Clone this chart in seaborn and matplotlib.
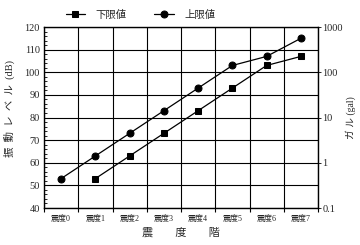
import matplotlib
matplotlib.use("Agg")
import matplotlib.pyplot as plt
import seaborn as sns
import numpy as np
import pandas as pd
from matplotlib.ticker import FixedLocator, MultipleLocator, NullFormatter

sns.set_theme(style="white")
plt.rcParams['font.family'] = ['Liberation Serif', 'Noto Sans CJK JP', 'DejaVu Sans']

categories = ["震度0", "震度1", "震度2", "震度3", "震度4", "震度5", "震度6", "震度7"]
lower_db = [np.nan, 53, 63, 73, 83, 93, 103, 107]
upper_db = [53, 63, 73, 83, 93, 103, 107, 115]
left_ticks = [40, 50, 60, 70, 80, 90, 100, 110, 120]
right_ticks = [0.1, 1, 10, 100, 1000]
right_labels = ["0.1", "1", "10", "100", "1000"]
series_names = ["下限値", "上限値"]

df = pd.DataFrame({
    "pos": list(range(len(categories))) * 2,
    "value": lower_db + upper_db,
    "series": [series_names[0]] * len(categories) + [series_names[1]] * len(categories),
})

fig = plt.figure(figsize=(3.6, 2.45), dpi=100)
ax = fig.add_axes([44/360, 1-208/245, (318-44)/360, (208-27)/245])

sns.lineplot(data=df, x="pos", y="value", style="series", markers={"下限値": "s", "上限値": "o"},
             dashes=False, color="black", linewidth=0.9, markersize=5, markeredgecolor="black",
             ax=ax, legend=True)

ax.set_xlim(-0.5, len(categories) - 0.5)
ax.set_ylim(40, 120)
ax.set_yticks(left_ticks)
ax.set_yticklabels([str(t) for t in left_ticks], fontsize=7.5)
ax.yaxis.set_minor_locator(MultipleLocator(2))
ax.tick_params(axis='y', which='major', length=0, pad=3)
ax.tick_params(axis='y', which='minor', direction='in', length=2, width=0.6, color='black', left=True)

ax.set_xticks(range(len(categories)))
ax.set_xticklabels(categories, fontsize=5.8)
ax.xaxis.set_minor_locator(FixedLocator(np.arange(-0.5, len(categories), 1.0)))
ax.xaxis.set_minor_formatter(NullFormatter())
ax.tick_params(axis='x', which='major', length=0, pad=5)
ax.tick_params(axis='x', which='minor', direction='out', length=3, width=0.8, color='black', bottom=True)

ax.grid(True, axis='y', which='major', color='black', linewidth=0.8)
ax.grid(True, axis='x', which='minor', color='black', linewidth=0.8)
ax.grid(False, axis='x', which='major')
for s in ax.spines.values():
    s.set_color('black')
    s.set_linewidth(1.0)

ax.set_xlabel("震　　度　　階", fontsize=8, labelpad=3)
ax.set_ylabel("振  動  レ  ベ  ル  (dB)", fontsize=7.5)
ax.yaxis.set_label_coords(-0.105, 0.55)

handles, labels = ax.get_legend_handles_labels()
ax.get_legend().remove()
fig.legend(handles, labels, loc='center', bbox_to_anchor=(0.39, 0.94), ncol=2, frameon=False,
           fontsize=7.5, handlelength=1.9, columnspacing=2.6, handletextpad=1.0)

ax2 = ax.twinx()
ax2.set_yscale('log')
ax2.set_ylim(0.1, 1000)
ax2.yaxis.set_major_locator(FixedLocator(right_ticks))
ax2.set_yticklabels(right_labels, fontsize=7.5)
ax2.yaxis.set_minor_locator(FixedLocator([]))
ax2.tick_params(axis='y', which='major', length=2, width=0.6, direction='out', pad=1, color='black')
ax2.set_ylabel("ガ ル (gal)", fontsize=7, rotation=90, labelpad=2)
for s in ax2.spines.values():
    s.set_visible(False)

fig.savefig("out.png", dpi=100, facecolor="white")
